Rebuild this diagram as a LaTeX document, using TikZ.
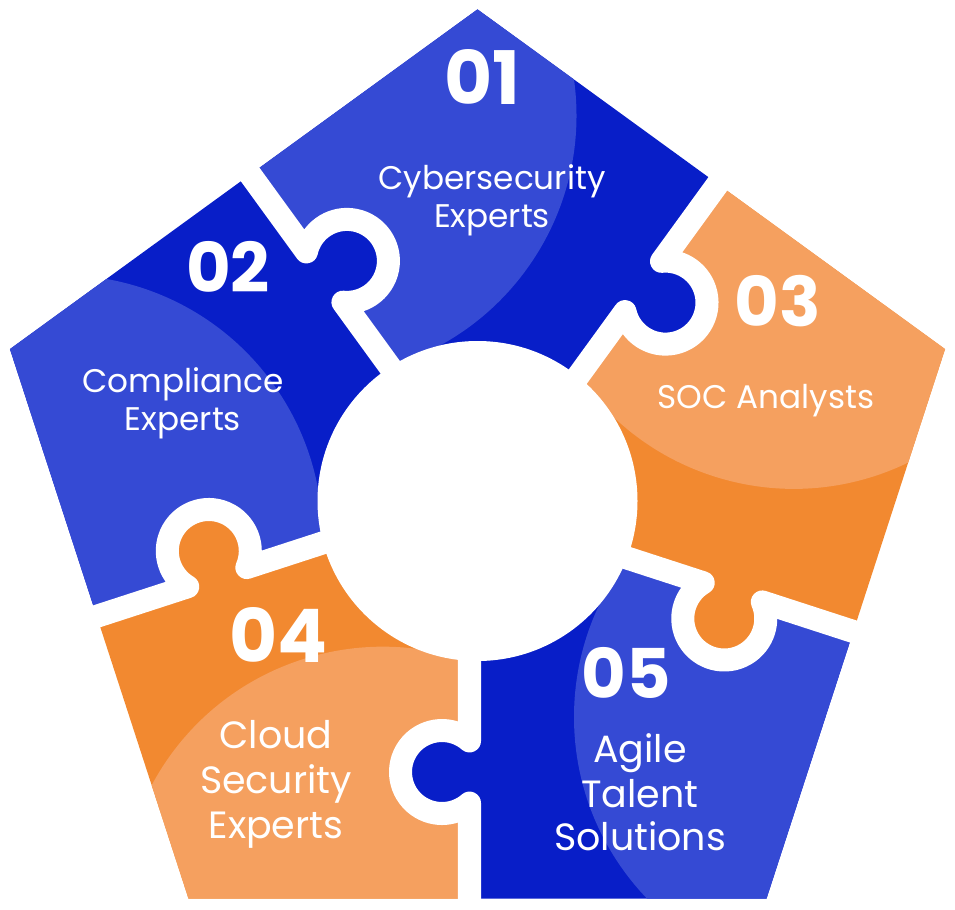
\documentclass[tikz,border=0pt]{standalone}
\usepackage{fontspec}
\setmainfont{Poppins}
\definecolor{bdark}{RGB}{8,30,200}
\definecolor{blight}{RGB}{53,74,212}
\definecolor{odark}{RGB}{242,137,48}
\definecolor{olight}{RGB}{245,160,95}
\tikzset{
  gapline/.style={white, line width=0.23cm, line join=round},
  num/.style={text=white, font=\bfseries\fontsize{19.5}{22}\selectfont, inner sep=0pt, anchor=center},
  lbl/.style={text=white, font=\fontsize{9.3}{12}\selectfont, inner sep=0pt, anchor=base},
  lblbig/.style={lbl, font=\fontsize{10.8}{13}\selectfont}
}
\begin{document}
\begin{tikzpicture}[x=0.01cm,y=0.01cm]
\useasboundingbox (-477.5,-408) rectangle (477.5,501);
\fill[white] (-477.5,-408) rectangle (477.5,501);
% pieces
\foreach \rot/\base/\light in {0/bdark/blight, 72/odark/olight, 144/bdark/blight, 216/bdark/blight, 288/odark/olight} {
  \begin{scope}
    \clip (90:491.6) -- (162:491.6) -- (234:491.6) -- (306:491.6) -- (18:491.6) -- cycle;
    \begin{scope}[rotate=\rot]
      \clip (0,0) -- (-91.91:240.03) arc[start angle=48.5, end angle=311.5, radius=41.5]
        -- (-90.655:700) -- (-54:1000) -- (-18.655:700) -- (-19.517:302.2)
        arc[start angle=383.5, end angle=120.5, radius=41.5] -- (-19.91:240.03) -- cycle;
      \fill[\base] (-54:300) circle[radius=700];
      \fill[\light] (358.5,-216.1) circle[radius=262];
    \end{scope}
  \end{scope}
}
% white gaps
\foreach \rot in {0,72,144,216,288} {
  \draw[gapline, rotate=\rot] (-8,-120) -- (-8,-239.92) arc[start angle=48.5, end angle=311.5, radius=41.5] -- (-8,-620);
}
\fill[white] (0,0) circle[radius=160];
% numbers
\node[num, font=\bfseries\fontsize{21}{24}\selectfont] (n1) at (4.5,424) {01};
\node[num] (n2) at (-249.5,234) {02};
\node[num] (n3) at (300,200) {03};
\node[num, font=\bfseries\fontsize{21}{24}\selectfont] (n4) at (-199,-134) {04};
\node[num] (n5) at (149,-171.5) {05};
% labels
\node[lbl] (a1) at (14.5,311) {Cybersecurity};
\node[lbl] (a2) at (14.5,273) {Experts};
\node[lbl] (b1) at (-294.5,109) {Compliance};
\node[lbl] (b2) at (-294.5,71) {Experts};
\node[lbl] (c1) at (288.5,93) {SOC Analysts};
\node[lblbig] (d1) at (-201.5,-247) {Cloud};
\node[lblbig] (d2) at (-201.5,-292) {Security};
\node[lblbig] (d3) at (-201.5,-337) {Experts};
\node[lblbig] (e1) at (162.5,-261) {Agile};
\node[lblbig] (e2) at (162.5,-306) {Talent};
\node[lblbig] (e3) at (162.5,-349) {Solutions};
\end{tikzpicture}
\end{document}
